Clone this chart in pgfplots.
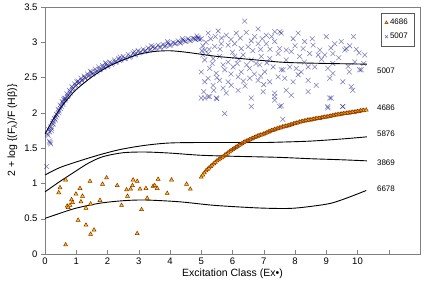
\documentclass[border=0pt]{standalone}
\usepackage{fontspec}
\setmainfont{Liberation Sans}
\usepackage{pgfplots}
\pgfplotsset{compat=1.18}
\definecolor{tri}{RGB}{255,210,0}
\definecolor{triedge}{RGB}{140,40,0}
\definecolor{crs}{RGB}{0,0,128}
\begin{document}
\begin{tikzpicture}
\begin{axis}[
 scale only axis, width=375pt, height=247pt,
 xmin=0, xmax=12, ymin=0, ymax=3.5,
 xtick={0,...,11}, xticklabels={0,1,2,3,4,5,6,7,8,9,10,},
 ytick={0,0.5,1,1.5,2,2.5,3,3.5},
 yticklabels={0,0.5,1,1.5,2,2.5,3,3.5},
 axis line style={gray},
 tick pos=left,
 xtick align=inside, ytick align=outside,
 tick style={gray, thin}, major tick length=4pt,
 ticklabel style={font=\fontsize{9.5}{10}\selectfont},
 xlabel={Excitation Class (Ex\textbullet)},
 ylabel={2 + log \{(F\textsubscript{λ})/F (Hβ)\}},
 label style={font=\fontsize{10.5}{12}\selectfont},
 xlabel style={yshift=2pt},
 legend style={at={(0.984,0.976)}, anchor=north east, draw=gray!70!black,
   font=\fontsize{8}{9}\selectfont, row sep=3pt, inner xsep=4pt, inner ysep=4pt, legend cell align=left},
 legend image code/.code={\draw[mark repeat=2,mark phase=2] plot coordinates {(0cm,0cm) (0.1cm,0cm) (0.2cm,0cm)};},
]
\addlegendimage{only marks, mark=triangle*, mark size=1.8pt, mark options={fill=tri, draw=triedge, line width=0.4pt}}
\addlegendentry{4686}
\addlegendimage{only marks, mark=x, mark size=2pt, mark options={draw=crs, draw opacity=0.6, line width=0.5pt}}
\addlegendentry{5007}

% 5007 scatter
\addplot[forget plot, only marks, mark=x, mark size=3.4pt, mark options={draw=crs, draw opacity=0.5, line width=0.55pt}] coordinates {
(0.05,1.24)(0.16,1.58)(0.18,1.56)(0.14,1.60)
(0.08,1.70)(0.12,1.76)(0.15,1.73)(0.18,1.80)(0.21,1.78)(0.24,1.85)(0.27,1.84)(0.30,1.92)(0.33,1.90)(0.36,1.98)
(0.39,1.97)(0.42,2.05)(0.45,2.03)(0.48,2.11)(0.52,2.09)(0.55,2.16)(0.58,2.14)(0.62,2.21)(0.66,2.20)(0.70,2.27)
(0.74,2.25)(0.78,2.32)(0.82,2.30)(0.86,2.37)(0.90,2.35)(0.95,2.41)(1.00,2.39)(1.05,2.45)(1.10,2.43)(1.15,2.49)
(1.20,2.46)(1.25,2.52)(1.30,2.49)(1.36,2.55)(1.42,2.53)(1.48,2.58)(1.54,2.56)(1.60,2.62)(1.66,2.59)(1.72,2.65)
(1.78,2.62)(1.84,2.67)(1.90,2.65)(1.96,2.70)(2.02,2.67)(2.08,2.72)(2.15,2.70)(2.22,2.75)(2.29,2.72)(2.36,2.77)
(2.43,2.75)(2.50,2.80)(2.58,2.77)(2.66,2.83)(2.74,2.80)(2.82,2.85)(2.90,2.83)(2.98,2.88)(3.06,2.86)(3.14,2.90)
(3.22,2.88)(3.30,2.92)(3.38,2.90)(3.46,2.94)(3.54,2.92)(3.62,2.96)(3.70,2.93)(3.78,2.97)(3.86,2.95)(3.94,2.99)
(4.02,2.96)(4.10,3.00)(4.18,2.98)(4.26,3.02)(4.34,2.99)(4.42,3.03)(4.50,3.01)(4.58,3.05)(4.66,3.02)(4.74,3.06)
(4.82,3.04)(4.90,3.07)
(0.10,1.68)(0.20,1.75)(0.26,1.88)(0.35,1.94)(0.44,2.00)(0.50,2.06)(0.57,2.12)(0.64,2.18)(0.72,2.23)(0.80,2.28)
(0.88,2.33)(0.97,2.38)(1.07,2.42)(1.17,2.46)(1.27,2.50)(1.39,2.52)(1.51,2.55)(1.63,2.58)(1.75,2.61)(1.87,2.64)
(1.99,2.66)(2.12,2.69)(2.25,2.72)(2.39,2.74)(2.54,2.77)(2.70,2.79)(2.86,2.82)(3.02,2.85)(3.18,2.87)(3.34,2.89)
(3.50,2.91)(3.66,2.93)(3.82,2.94)(3.98,2.96)(4.14,2.98)(4.30,3.00)(4.46,3.02)(4.62,3.03)(4.78,3.05)(4.95,3.04)
(0.60,2.19)(1.02,2.44)(1.45,2.59)(1.93,2.71)(2.40,2.79)(2.86,2.87)(3.40,2.95)(3.92,3.01)(4.40,3.05)(4.86,3.09)
(6.39,3.30)(6.82,3.19)(4.90,3.05)(5.00,3.05)(5.22,3.13)(5.54,3.16)(5.80,3.10)(6.12,3.13)(6.44,3.14)(6.71,3.08)
(7.08,3.10)(7.35,3.15)(7.56,3.13)(5.11,2.89)(5.22,2.84)(5.43,2.94)(5.64,2.98)(5.86,2.96)(6.07,2.98)(6.28,2.91)
(6.50,2.94)(6.82,2.98)(7.08,2.98)(7.35,3.01)(7.51,2.91)(5.11,2.75)(5.38,2.77)(5.59,2.80)(5.86,2.72)(6.07,2.80)
(6.34,2.82)(6.60,2.75)(6.92,2.80)(7.19,2.77)(7.46,2.84)(5.00,2.58)(5.27,2.63)(5.48,2.56)(5.75,2.61)(6.02,2.65)
(6.28,2.58)(6.55,2.63)(6.87,2.68)(7.03,2.58)(7.30,2.65)(7.56,2.61)(5.11,2.44)(5.38,2.39)(5.59,2.46)(5.86,2.44)
(6.18,2.51)(6.55,2.49)(6.82,2.46)(7.19,2.44)(7.46,2.51)(5.00,2.21)(5.22,2.23)(5.48,2.21)(6.18,2.32)(6.60,2.09)
(6.98,2.30)(7.35,2.28)(7.35,2.18)(5.22,2.49)(5.70,2.35)(5.96,2.39)(5.11,2.21)(5.27,2.23)(5.50,2.20)(5.75,1.99)
(6.60,2.21)(7.35,2.23)(7.56,2.10)(7.61,1.91)(9.11,2.21)(9.05,2.07)(9.53,2.09)
(7.51,3.15)(7.94,3.05)(8.10,3.13)(8.31,3.01)(8.58,2.96)(9.00,3.08)(9.27,2.98)(9.48,3.01)(9.64,2.91)(9.87,3.08)
(9.96,2.90)(10.23,2.82)(7.72,2.89)(7.88,2.87)(8.26,2.91)(8.47,2.84)(8.79,2.89)(8.95,2.82)(9.21,2.84)(9.59,2.89)
(7.62,2.61)(7.83,2.65)(8.04,2.63)(8.20,2.58)(8.42,2.65)(8.63,2.65)(9.05,2.63)(9.21,2.56)(9.53,2.44)(9.74,2.58)
(10.07,2.61)(7.67,2.49)(7.94,2.44)(8.10,2.54)(8.42,2.46)(8.68,2.39)(9.11,2.49)(9.80,2.37)(9.85,2.32)(7.72,2.32)
(7.88,2.25)(8.42,2.30)(9.16,2.21)(7.51,2.09)(9.05,2.09)(9.53,2.09)(9.91,2.72)(10.12,2.61)(9.21,2.70)(8.74,2.82)
(8.15,2.80)(7.72,2.75)
(5.05,2.95)(5.15,3.00)(5.30,3.05)(5.45,3.08)(5.65,3.06)(5.95,3.04)(6.25,3.06)(6.60,3.02)(6.95,3.05)(7.25,3.08)
(5.35,2.70)(5.70,2.68)(6.15,2.70)(6.45,2.68)(6.75,2.70)(7.10,2.71)(5.25,2.90)(6.00,2.86)(6.65,2.88)(7.20,2.90)
(5.50,2.50)(5.95,2.55)(6.35,2.45)(6.70,2.55)(7.00,2.40)(8.30,2.72)(8.85,2.76)(9.40,2.78)(9.75,2.95)(10.20,2.70)
(8.00,2.95)(8.55,3.05)(9.15,2.92)(9.70,2.66)(10.05,2.85)
(5.02,2.88)(5.05,2.82)(5.08,2.30)(5.40,2.32)(5.80,2.28)(6.40,2.38)(6.90,2.52)(5.60,2.90)(6.20,2.76)(6.90,2.90)
};

% 4686 scatter
\addplot[forget plot, only marks, mark=triangle*, mark size=2.3pt, mark options={fill=tri, draw=triedge, line width=0.5pt}] coordinates {
(0.66,0.13)(0.66,1.05)(0.48,0.94)(0.44,0.87)(0.71,0.68)(0.85,0.77)(0.80,0.69)(0.88,0.73)(0.74,0.66)(0.99,0.85)
(1.12,0.93)(1.06,0.48)(1.15,0.74)(1.20,0.82)(1.31,0.65)(1.31,0.41)(1.44,1.03)(1.46,0.71)(1.46,0.28)(1.57,0.34)
(1.76,0.76)(1.84,0.99)(1.97,1.08)(2.31,0.97)(2.45,0.69)(2.64,0.82)(2.61,0.91)(2.74,0.92)(2.80,0.97)(2.82,1.05)
(2.95,1.03)(2.95,0.29)(3.04,0.92)(3.09,0.63)(3.23,0.93)(3.27,0.79)(3.46,0.96)(3.51,0.97)(3.62,1.06)(3.59,0.93)
(3.91,0.86)(4.05,1.05)(4.53,0.99)(4.65,0.92)
(5.00,1.09)(5.05,1.12)(5.10,1.15)(5.15,1.18)(5.20,1.20)(5.25,1.22)(5.30,1.24)(5.35,1.26)(5.40,1.28)(5.45,1.30)
(5.50,1.32)(5.55,1.335)(5.60,1.35)(5.65,1.365)(5.70,1.38)(5.75,1.40)(5.80,1.415)(5.85,1.43)(5.90,1.45)(5.95,1.465)
(6.00,1.48)(6.05,1.495)(6.10,1.51)(6.15,1.525)(6.20,1.54)(6.25,1.55)(6.30,1.565)(6.35,1.58)(6.40,1.59)(6.45,1.60)
(6.50,1.61)(6.55,1.62)(6.60,1.63)(6.65,1.64)(6.70,1.65)(6.75,1.66)(6.80,1.67)(6.85,1.68)(6.90,1.685)(6.95,1.69)
(7.00,1.70)(7.05,1.71)(7.10,1.72)(7.15,1.73)(7.20,1.74)(7.25,1.75)(7.30,1.755)(7.35,1.765)(7.40,1.77)(7.45,1.78)
(7.50,1.785)(7.55,1.79)(7.60,1.80)(7.65,1.805)(7.70,1.81)(7.75,1.815)(7.80,1.82)(7.85,1.83)(7.90,1.835)(7.95,1.845)
(8.00,1.85)(8.05,1.855)(8.10,1.86)(8.15,1.87)(8.20,1.875)(8.25,1.88)(8.30,1.885)(8.35,1.89)(8.40,1.895)(8.45,1.90)
(8.50,1.90)(8.55,1.905)(8.60,1.91)(8.65,1.915)(8.70,1.92)(8.75,1.92)(8.80,1.925)(8.85,1.93)(8.90,1.935)(8.95,1.94)
(9.00,1.94)(9.05,1.945)(9.10,1.95)(9.15,1.955)(9.20,1.96)(9.25,1.965)(9.30,1.97)(9.35,1.975)(9.40,1.975)(9.45,1.98)
(9.50,1.985)(9.55,1.99)(9.60,1.99)(9.65,1.995)(9.70,2.00)(9.75,2.00)(9.80,2.005)(9.85,2.01)(9.90,2.01)(9.95,2.015)
(10.00,2.02)(10.05,2.02)(10.10,2.03)(10.15,2.03)(10.20,2.035)(10.28,2.04)
};

% fitted lines
\addplot[forget plot, black, line width=0.9pt, smooth] coordinates {
(0,1.70)(0.25,1.90)(0.5,2.07)(0.75,2.21)(1,2.33)(1.5,2.51)(2,2.65)(2.5,2.75)(3,2.83)(3.5,2.87)(4,2.88)
(4.5,2.86)(5,2.83)(5.5,2.80)(6,2.78)(6.5,2.76)(7,2.74)(7.5,2.72)(8,2.71)(9,2.70)(10.3,2.69)};
\addplot[forget plot, black, line width=0.9pt, smooth] coordinates {
(0,1.12)(0.45,1.22)(0.9,1.29)(1.4,1.36)(1.86,1.42)(2.4,1.48)(3.04,1.53)(3.6,1.56)(4.1,1.575)(5,1.58)(6,1.58)
(7,1.58)(7.5,1.585)(8.5,1.60)(9.5,1.63)(10.3,1.66)};
\addplot[forget plot, black, line width=0.9pt, smooth] coordinates {
(0,0.88)(0.45,1.02)(0.9,1.15)(1.4,1.29)(1.86,1.38)(2.5,1.435)(3.2,1.445)(4,1.43)(4.95,1.40)(6,1.385)(7.45,1.37)
(8.5,1.35)(9.5,1.335)(10.3,1.32)};
\addplot[forget plot, black, line width=0.9pt, smooth] coordinates {
(0,0.505)(0.5,0.58)(1,0.65)(1.76,0.72)(2.5,0.755)(3.2,0.765)(4.3,0.74)(5.4,0.69)(6.7,0.655)(7.5,0.645)(8,0.65)
(8.6,0.68)(9.16,0.72)(9.7,0.80)(10.28,0.90)};

\begin{scope}[every node/.style={anchor=west, font=\fontsize{8}{9}\selectfont, inner sep=0pt}]
\node at (axis cs:10.62,2.59) {5007};
\node at (axis cs:10.62,2.07) {4686};
\node at (axis cs:10.62,1.71) {5876};
\node at (axis cs:10.62,1.29) {3869};
\node at (axis cs:10.62,0.93) {6678};
\end{scope}
\end{axis}
\path[draw=none] ([shift={(-45pt,-45pt)}]current axis.south west) rectangle ([shift={(10pt,7pt)}]current axis.north east);
\end{tikzpicture}
\end{document}
